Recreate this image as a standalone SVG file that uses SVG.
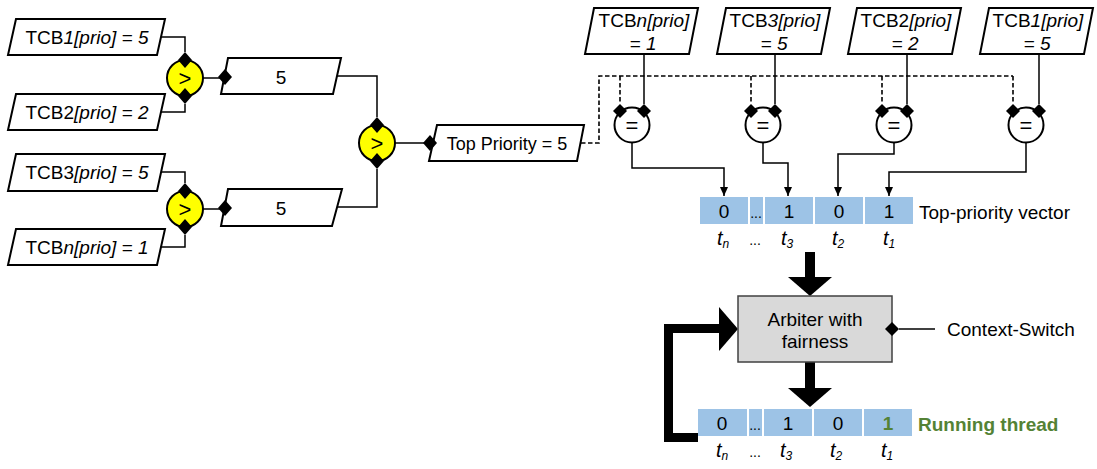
<svg xmlns="http://www.w3.org/2000/svg" width="1097" height="469" viewBox="0 0 1097 469">
  <defs>
    <style>
      text { font-family: "Liberation Sans", Arial, sans-serif; font-size: 19px; fill: #000; }
      .mid { text-anchor: middle; }
      .it { font-style: italic; }
      .para { fill: #fff; stroke: #000; stroke-width: 2; }
      .wire { fill: none; stroke: #000; stroke-width: 1.5; }
      .dash { fill: none; stroke: #000; stroke-width: 1.6; stroke-dasharray: 4.5 2.5; }
      .cmp { fill: #ffff00; stroke: #000; stroke-width: 2; }
      .eq { fill: #fff; stroke: #000; stroke-width: 2; }
      .dot { fill: #000; }
      .cell { fill: #9dc3e6; }
      .sym { font-size: 22px; }
      .sub { font-size: 12px; }
      .lbl { font-style: italic; font-size: 20px; }
      .green { fill: #548235; font-weight: bold; }
      .bold { fill: #000; stroke: none; }
    </style>
    <marker id="tip" viewBox="0 0 9 8" refX="9" refY="4" markerWidth="9" markerHeight="8" markerUnits="userSpaceOnUse" orient="auto">
      <path d="M0,0 L9,4 L0,8 Z" fill="#000"/>
    </marker>
  </defs>

  <!-- connectors -->
  <g id="connectors">
    <!-- tree of priority comparisons -->
    <path class="wire" d="M161,37 H185 V52"/>
    <path class="wire" d="M161,112 H185 V104"/>
    <path class="wire" d="M161,172 H185 V183"/>
    <path class="wire" d="M161,247 H185 V235"/>
    <path class="wire" d="M203,78 H220"/>
    <path class="wire" d="M203,209 H220"/>
    <path class="wire" d="M337,76 H377 V117"/>
    <path class="wire" d="M337,207 H377 V169"/>
    <path class="wire" d="M395,143 H424"/>
    <!-- top priority broadcast -->
    <path class="dash" d="M581,143 H599 V76 H1013"/>
    <path class="dash" d="M620,76 V104"/>
    <path class="dash" d="M751,76 V104"/>
    <path class="dash" d="M882,76 V104"/>
    <path class="dash" d="M1013,76 V104"/>
    <!-- TCB values into equality checks -->
    <path class="wire" d="M644,54 V104"/>
    <path class="wire" d="M775,54 V104"/>
    <path class="wire" d="M907,54 V104"/>
    <path class="wire" d="M1039,54 V104"/>
    <!-- equality results into the vector -->
    <path class="wire" d="M632,143 V168 H724 V196" marker-end="url(#tip)"/>
    <path class="wire" d="M763,143 V163 H788 V196" marker-end="url(#tip)"/>
    <path class="wire" d="M894,143 V154 H838 V196" marker-end="url(#tip)"/>
    <path class="wire" d="M1026,143 V172 H889 V196" marker-end="url(#tip)"/>
    <!-- vector into arbiter -->
    <rect class="bold" x="805" y="252" width="10" height="26"/>
    <polygon class="bold" points="788,277 832,277 810,296"/>
    <!-- arbiter into running thread -->
    <rect class="bold" x="805" y="362" width="10" height="27"/>
    <polygon class="bold" points="788,388 832,388 810,407"/>
    <!-- feedback of running thread -->
    <path d="M698,437.5 H668.5 V328.5 H722" fill="none" stroke="#000" stroke-width="9"/>
    <polygon class="bold" points="719,307 738,329 719,351"/>
    <!-- context switch -->
    <path class="wire" d="M899,329 H935"/>
  </g>

  <!-- input priorities -->
  <g id="tcb1">
    <polygon class="para" points="16,19 165,19 157,55 8,55"/>
    <text class="mid" x="87" y="44">TCB<tspan class="it">1[prio] = 5</tspan></text>
  </g>
  <g id="tcb2">
    <polygon class="para" points="16,94 165,94 157,130 8,130"/>
    <text class="mid" x="87" y="119">TCB2<tspan class="it">[prio] = 2</tspan></text>
  </g>
  <g id="tcb3">
    <polygon class="para" points="16,154 165,154 157,191 8,191"/>
    <text class="mid" x="87" y="179">TCB3<tspan class="it">[prio] = 5</tspan></text>
  </g>
  <g id="tcbn">
    <polygon class="para" points="16,229 165,229 157,265 8,265"/>
    <text class="mid" x="87" y="254">TCB<tspan class="it">n[prio] = 1</tspan></text>
  </g>

  <!-- greater-than comparators -->
  <g id="cmp1">
    <circle class="cmp" cx="185" cy="78" r="18"/>
    <polygon class="dot" points="185,52 192,60 185,68 178,60"/>
    <polygon class="dot" points="185,88 192,96 185,104 178,96"/>
    <text class="mid sym" x="185" y="86">&gt;</text>
  </g>
  <g id="cmp2">
    <circle class="cmp" cx="185" cy="209" r="18"/>
    <polygon class="dot" points="185,183 192,191 185,199 178,191"/>
    <polygon class="dot" points="185,219 192,227 185,235 178,227"/>
    <text class="mid sym" x="185" y="217">&gt;</text>
  </g>
  <g id="cmp3">
    <circle class="cmp" cx="377" cy="143" r="18"/>
    <polygon class="dot" points="377,117 384,125 377,133 370,125"/>
    <polygon class="dot" points="377,153 384,161 377,169 370,161"/>
    <text class="mid sym" x="377" y="151">&gt;</text>
  </g>

  <!-- intermediate maxima -->
  <g id="max1">
    <polygon class="para" points="228,58 341,58 333,94 221,94"/>
    <polygon class="dot" points="225,69 232,77 225,85 218,77"/>
    <text class="mid" x="281" y="84">5</text>
  </g>
  <g id="max2">
    <polygon class="para" points="228,189 342,189 332,226 221,226"/>
    <polygon class="dot" points="225,200 232,208 225,216 218,208"/>
    <text class="mid" x="281" y="215">5</text>
  </g>
  <g id="top-priority">
    <polygon class="para" points="437,125 584,125 577,161 429,161"/>
    <polygon class="dot" points="430,135 437,143 430,151 423,143"/>
    <text class="mid" x="507" y="150" style="font-size:18px">Top Priority = 5</text>
  </g>

  <!-- per-thread priorities -->
  <g id="tcbn-top">
    <polygon class="para" points="594,8 698,8 689,54 585,54"/>
    <text class="mid" x="644" y="27">TCB<tspan class="it">n[prio]</tspan></text>
    <text class="mid it" x="643" y="50">= 1</text>
  </g>
  <g id="tcb3-top">
    <polygon class="para" points="726,8 830,8 821,54 717,54"/>
    <text class="mid" x="775" y="27">TCB<tspan class="it">3[prio]</tspan></text>
    <text class="mid it" x="774" y="50">= 5</text>
  </g>
  <g id="tcb2-top">
    <polygon class="para" points="857,8 961,8 952,54 848,54"/>
    <text class="mid" x="906" y="27">TCB2<tspan class="it">[prio]</tspan></text>
    <text class="mid it" x="905" y="50">= 2</text>
  </g>
  <g id="tcb1-top">
    <polygon class="para" points="989,8 1093,8 1084,54 980,54"/>
    <text class="mid" x="1038" y="27">TCB<tspan class="it">1[prio]</tspan></text>
    <text class="mid it" x="1037" y="50">= 5</text>
  </g>

  <!-- equality checks -->
  <g id="eq-n">
    <circle class="eq" cx="632" cy="125" r="17.5"/>
    <polygon class="dot" points="620,104 627,111 620,118 613,111"/>
    <polygon class="dot" points="644,104 651,111 644,118 637,111"/>
    <text class="mid sym" x="632" y="133">=</text>
  </g>
  <g id="eq-3">
    <circle class="eq" cx="763" cy="125" r="17.5"/>
    <polygon class="dot" points="751,104 758,111 751,118 744,111"/>
    <polygon class="dot" points="775,104 782,111 775,118 768,111"/>
    <text class="mid sym" x="763" y="133">=</text>
  </g>
  <g id="eq-2">
    <circle class="eq" cx="894" cy="125" r="17.5"/>
    <polygon class="dot" points="882,104 889,111 882,118 875,111"/>
    <polygon class="dot" points="907,104 914,111 907,118 900,111"/>
    <text class="mid sym" x="894" y="133">=</text>
  </g>
  <g id="eq-1">
    <circle class="eq" cx="1026" cy="125" r="17.5"/>
    <polygon class="dot" points="1013,104 1020,111 1013,118 1006,111"/>
    <polygon class="dot" points="1039,104 1046,111 1039,118 1032,111"/>
    <text class="mid sym" x="1026" y="133">=</text>
  </g>

  <!-- top-priority vector -->
  <g id="top-vector">
    <rect class="cell" x="700" y="197" width="48" height="27"/>
    <rect class="cell" x="750" y="197" width="13" height="27"/>
    <rect class="cell" x="765" y="197" width="48" height="27"/>
    <rect class="cell" x="815" y="197" width="48" height="27"/>
    <rect class="cell" x="865" y="197" width="48" height="27"/>
    <text class="mid" x="724" y="218">0</text>
    <text class="mid" x="756" y="218" style="font-size:14px">...</text>
    <text class="mid" x="789" y="218">1</text>
    <text class="mid" x="839" y="218">0</text>
    <text class="mid" x="889" y="218">1</text>
    <text x="919" y="219">Top-priority vector</text>
    <text class="lbl" x="717" y="245">t<tspan class="sub" dy="3">n</tspan></text>
    <text x="755" y="245" class="mid" style="font-size:14px">...</text>
    <text class="lbl" x="781" y="245">t<tspan class="sub" dy="3">3</tspan></text>
    <text class="lbl" x="832" y="245">t<tspan class="sub" dy="3">2</tspan></text>
    <text class="lbl" x="883" y="245">t<tspan class="sub" dy="3">1</tspan></text>
  </g>

  <!-- arbiter -->
  <g id="arbiter">
    <rect x="738" y="296" width="154" height="66" fill="#d9d9d9" stroke="#404040" stroke-width="1.5"/>
    <text class="mid" x="815" y="326">Arbiter with</text>
    <text class="mid" x="815" y="348">fairness</text>
    <polygon class="dot" points="892,322 899,329 892,336 885,329"/>
  </g>
  <g id="context-switch">
    <text x="947" y="336">Context-Switch</text>
  </g>

  <!-- running thread vector -->
  <g id="running-vector">
    <rect class="cell" x="698" y="409" width="49" height="27"/>
    <rect class="cell" x="749" y="409" width="13" height="27"/>
    <rect class="cell" x="764" y="409" width="48" height="27"/>
    <rect class="cell" x="814" y="409" width="48" height="27"/>
    <rect class="cell" x="864" y="409" width="48" height="27"/>
    <text class="mid" x="722" y="430">0</text>
    <text class="mid" x="755" y="430" style="font-size:14px">...</text>
    <text class="mid" x="788" y="430">1</text>
    <text class="mid" x="838" y="430">0</text>
    <text class="mid green" x="888" y="430">1</text>
    <text class="green" x="918" y="431">Running thread</text>
    <text class="lbl" x="716" y="457">t<tspan class="sub" dy="3">n</tspan></text>
    <text x="755" y="457" class="mid" style="font-size:14px">...</text>
    <text class="lbl" x="780" y="457">t<tspan class="sub" dy="3">3</tspan></text>
    <text class="lbl" x="830" y="457">t<tspan class="sub" dy="3">2</tspan></text>
    <text class="lbl" x="881" y="457">t<tspan class="sub" dy="3">1</tspan></text>
  </g>
</svg>
